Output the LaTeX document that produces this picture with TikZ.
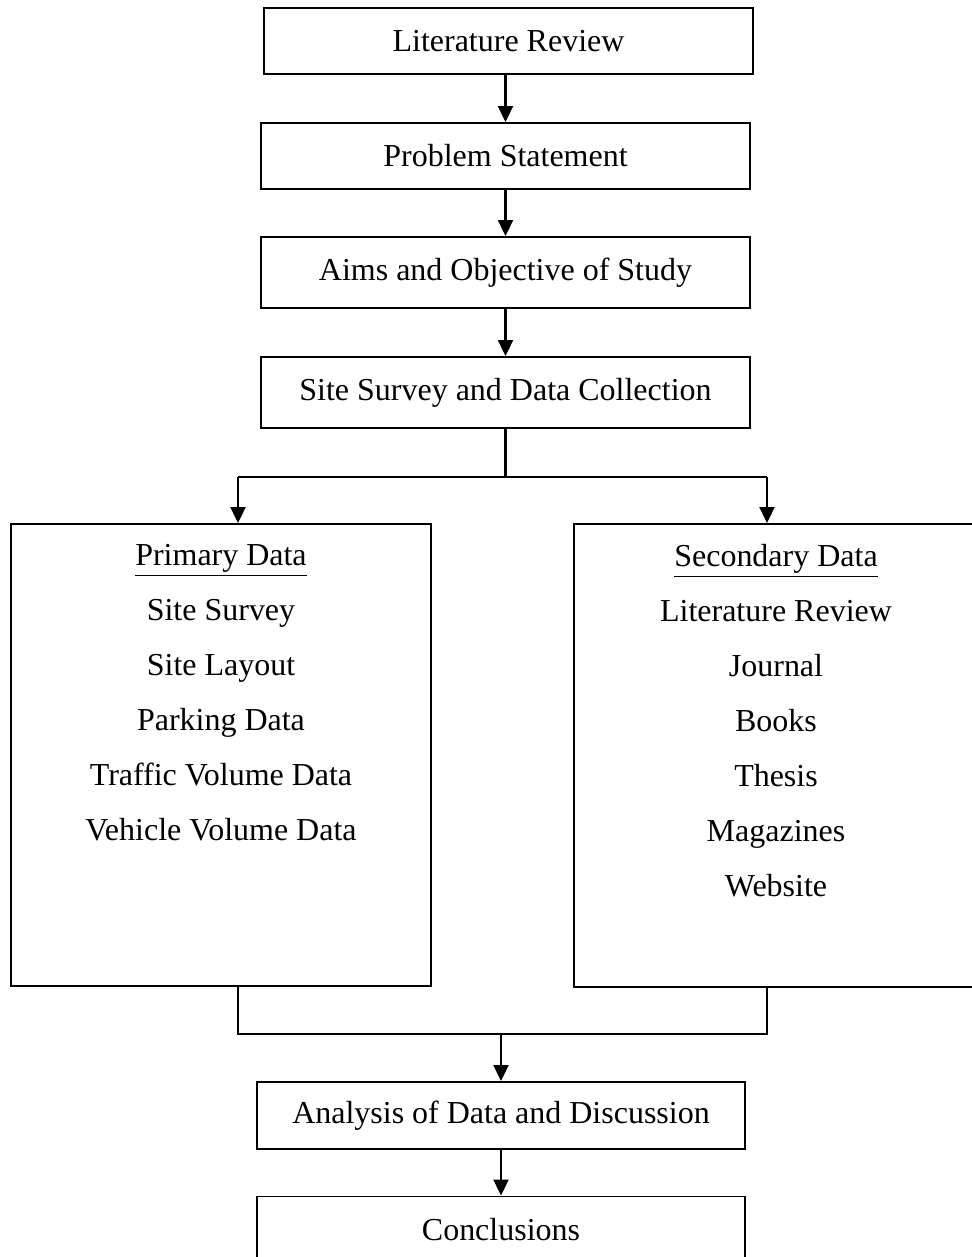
\documentclass[tikz,border=0pt]{standalone}
\usepackage{fontspec}
\setmainfont{Liberation Serif}
\usetikzlibrary{arrows.meta}

\begin{document}
\begin{tikzpicture}[
    every node/.style={font=\fontsize{18.2}{31.3}\selectfont},
    stage/.style={draw, line width=1.1pt, minimum width=9.78cm, minimum height=1.32cm, inner sep=0pt},
    databox/.style={draw, line width=1.1pt, inner sep=0pt},
    datalist/.style={align=center, inner sep=0pt, anchor=north},
    link/.style={line width=1.2pt},
    flow/.style={line width=1.2pt, -{Triangle[length=0.32cm, width=0.3cm]}}
  ]
  \useasboundingbox (0,0) rectangle (19.42,-25.14);

  % Stages
  \node[stage] (lit) at (10.17,-0.82) {Literature Review};
  \node[stage] (prob) at (10.11,-3.12) {Problem Statement};
  \node[stage, minimum height=1.42cm] (aims) at (10.11,-5.45) {Aims and Objective of Study};
  \node[stage, minimum height=1.42cm] (site) at (10.11,-7.85) {Site Survey and Data Collection};

  % Data boxes
  \node[databox, minimum width=8.4cm, minimum height=9.24cm] (primary) at (4.42,-15.10) {};
  \node[databox, minimum width=8.08cm, minimum height=9.26cm] (secondary) at (15.52,-15.11) {};
  \node[datalist] (primarylist) at ([yshift=-0.42cm]primary.north)
    {\underline{Primary Data}\\ Site Survey\\ Site Layout\\ Parking Data\\ Traffic Volume Data\\ Vehicle Volume Data};
  \node[datalist] (secondarylist) at ([yshift=-0.42cm]secondary.north)
    {\underline{Secondary Data}\\ Literature Review\\ Journal\\ Books\\ Thesis\\ Magazines\\ Website};

  % Last stages
  \node[stage, minimum width=9.76cm, minimum height=1.34cm] (analysis) at (10.02,-22.31) {Analysis of Data and Discussion};
  \node[stage, minimum width=9.76cm, minimum height=1.34cm] (concl) at (10.02,-24.6) {Conclusions};

  % Connectors
  \coordinate (splitL) at (4.76,-9.54);
  \coordinate (splitR) at (15.34,-9.54);
  \coordinate (joinL) at (4.76,-20.68);
  \coordinate (joinR) at (15.34,-20.68);

  \draw[flow] (prob.north |- lit.south) -- (prob.north);
  \draw[flow] (prob) -- (aims);
  \draw[flow] (aims) -- (site);
  \draw[link] (site.south) -- (site.south |- splitL);
  \draw[link] (splitL) -- (splitR);
  \draw[flow] (splitL) -- (splitL |- primary.north);
  \draw[flow] (splitR) -- (splitR |- secondary.north);
  \draw[link] (joinL |- primary.south) -- (joinL) -- (joinR) -- (joinR |- secondary.south);
  \draw[flow] (analysis.north |- joinL) -- (analysis.north);
  \draw[flow] (analysis) -- (concl);
\end{tikzpicture}
\end{document}
